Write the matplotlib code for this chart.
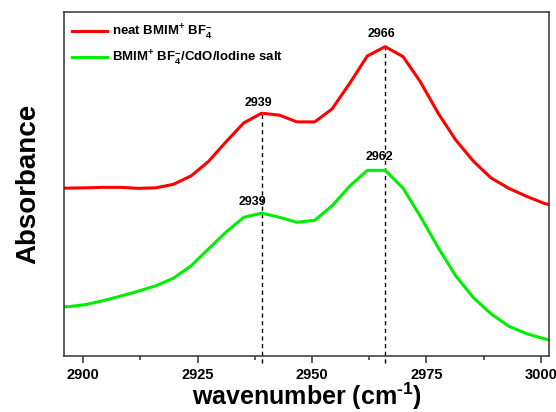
import matplotlib
matplotlib.use("Agg")
import matplotlib.pyplot as plt
from matplotlib.ticker import MultipleLocator

plt.rcParams['font.family'] = ['Liberation Sans', 'DejaVu Sans']
plt.rcParams['font.weight'] = 'bold'
plt.rcParams['mathtext.fontset'] = 'custom'
plt.rcParams['mathtext.rm'] = 'Liberation Sans:bold'
plt.rcParams['mathtext.bf'] = 'Liberation Sans:bold'
plt.rcParams['mathtext.it'] = 'Liberation Sans:bold'
plt.rcParams['mathtext.default'] = 'bf'

wavenumber = [2892.7, 2896.6, 2900.4, 2904.3, 2908.1, 2912.0, 2915.9, 2919.7,
              2923.6, 2927.4, 2931.3, 2935.1, 2939.0, 2942.9, 2946.7, 2950.6,
              2954.4, 2958.3, 2962.1, 2966.0, 2969.9, 2973.7, 2977.6, 2981.4,
              2985.3, 2989.1, 2993.0, 2996.9, 3000.7, 3004.6]
neat = [1.675, 1.677, 1.68, 1.685, 1.685, 1.675, 1.68, 1.715, 1.80, 1.945,
        2.145, 2.33, 2.427, 2.407, 2.34, 2.34, 2.47, 2.73, 3.00, 3.093,
        2.993, 2.74, 2.425, 2.16, 1.945, 1.78, 1.675, 1.595, 1.525, 1.48]
composite = [0.48, 0.49, 0.51, 0.55, 0.595, 0.645, 0.70, 0.775, 0.90, 1.07,
             1.24, 1.385, 1.427, 1.385, 1.335, 1.355, 1.50, 1.70, 1.855, 1.855,
             1.677, 1.393, 1.08, 0.80, 0.58, 0.42, 0.295, 0.22, 0.17, 0.13]
series_labels = ["neat BMIM$^{+}$ BF$_{4}^{-}$",
                 "BMIM$^{+}$ BF$_{4}^{-}$/CdO/Iodine salt"]
peak_pos = [2939, 2966]
peak_heights = [2.427, 3.093]
annot_text = ["2939", "2966", "2939", "2962"]
annot_x = [2938.4, 2965.3, 2937.0, 2964.8]
annot_y = [2.53, 3.22, 1.54, 1.99]

fig = plt.figure(figsize=(5.56, 4.12), dpi=100)
ax = fig.add_axes([0.1151, 0.1367, 0.8723, 0.8342])

ax.plot(wavenumber, neat, color='#ff0000', lw=2.2, label=series_labels[0])
ax.plot(wavenumber, composite, color='#00ee00', lw=2.2, label=series_labels[1])

for xp, h in zip(peak_pos, peak_heights):
    ax.plot([xp, xp], [-0.07, h], color='black', lw=1.0, ls=(0, (3, 2.5)),
            clip_on=False, zorder=1)

for t, x, y in zip(annot_text, annot_x, annot_y):
    ax.text(x, y, t, ha='center', va='center', fontsize=9, fontweight='bold')

ax.set_xlim(2895.8, 3001.8)
ax.set_ylim(0, 3.44)
ax.set_yticks([])
ax.xaxis.set_major_locator(MultipleLocator(25))
ax.xaxis.set_minor_locator(MultipleLocator(12.5))
ax.tick_params(axis='x', which='major', direction='out', length=5, width=1.1,
               labelsize=10.5, pad=4, color='#333333')
ax.tick_params(axis='x', which='minor', direction='out', length=3, width=1.1,
               color='#333333')
for lab in ax.get_xticklabels():
    lab.set_fontweight('bold')
for s in ax.spines.values():
    s.set_linewidth(1.1)
    s.set_color('#333333')

ax.set_xlabel("wavenumber (cm$^{\\text{-}1}$)", fontsize=18, fontweight='bold',
              labelpad=-1)
ax.set_ylabel("Absorbance", fontsize=20, fontweight='bold', labelpad=16)

leg = ax.legend(loc='upper left', bbox_to_anchor=(-0.006, 1.0), frameon=False,
                fontsize=9.5, handlelength=2.7, handletextpad=0.35,
                labelspacing=0.55, borderaxespad=0.4)
for t in leg.get_texts():
    t.set_fontweight('bold')

fig.savefig("out.png", dpi=100)
